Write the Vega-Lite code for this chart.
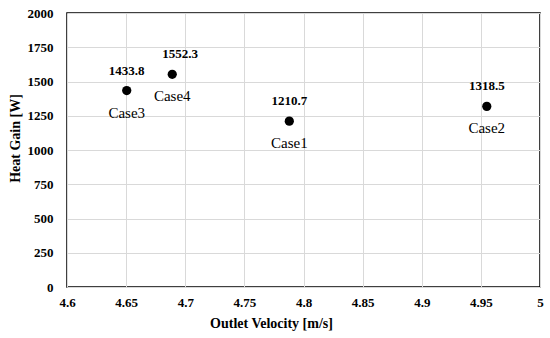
{
  "$schema": "https://vega.github.io/schema/vega-lite/v6.json",
  "autosize": {"type": "none"},
  "width": 473,
  "height": 274,
  "padding": {"left": 67, "top": 13, "right": 10, "bottom": 51},
  "background": "white",
  "config": {
    "font": "Liberation Serif",
    "view": {"stroke": "#000000", "strokeWidth": 1.5},
    "axis": {
      "grid": true,
      "gridColor": "#d9d9d9",
      "gridWidth": 1,
      "domain": false,
      "ticks": false,
      "labelFont": "Liberation Serif",
      "labelFontWeight": "bold",
      "labelFontSize": 13,
      "labelColor": "#000000",
      "titleFont": "Liberation Serif",
      "titleFontWeight": "bold",
      "titleFontSize": 14,
      "titleColor": "#000000"
    }
  },
  "data": {
    "values": [
      {"v": 4.788, "q": 1210.7, "case": "Case1", "label": "1210.7"},
      {"v": 4.955, "q": 1318.5, "case": "Case2", "label": "1318.5"},
      {"v": 4.6505, "q": 1433.8, "case": "Case3", "label": "1433.8"},
      {"v": 4.689, "q": 1552.3, "case": "Case4", "label": "1552.3"}
    ]
  },
  "encoding": {
    "x": {
      "field": "v", "type": "quantitative",
      "scale": {"domain": [4.6, 5], "nice": false, "zero": false},
      "axis": {"values": [4.6, 4.65, 4.7, 4.75, 4.8, 4.85, 4.9, 4.95, 5], "format": ".3~r", "labelPadding": 9, "titlePadding": 7, "titleX": 204, "labelFlush": false},
      "title": "Outlet Velocity [m/s]"
    },
    "y": {
      "field": "q", "type": "quantitative",
      "scale": {"domain": [0, 2000], "nice": false},
      "axis": {"values": [0, 250, 500, 750, 1000, 1250, 1500, 1750, 2000], "format": "d", "labelPadding": 14, "titlePadding": 5, "titleY": 125, "labelFlush": false},
      "title": "Heat Gain [W]"
    }
  },
  "layer": [
    {"mark": {"type": "point", "filled": true, "color": "#000000", "size": 85, "opacity": 1}},
    {
      "transform": [{"filter": "datum.case != 'Case4'"}],
      "mark": {"type": "text", "font": "Liberation Serif", "fontWeight": "bold", "fontSize": 13, "dy": -20, "color": "#000000"},
      "encoding": {"text": {"field": "label"}}
    },
    {
      "transform": [{"filter": "datum.case == 'Case4'"}],
      "mark": {"type": "text", "font": "Liberation Serif", "fontWeight": "bold", "fontSize": 13, "dy": -20, "dx": 8, "color": "#000000"},
      "encoding": {"text": {"field": "label"}}
    },
    {
      "mark": {"type": "text", "font": "Liberation Serif", "fontSize": 15, "dy": 22, "color": "#000000"},
      "encoding": {"text": {"field": "case"}}
    }
  ]
}
